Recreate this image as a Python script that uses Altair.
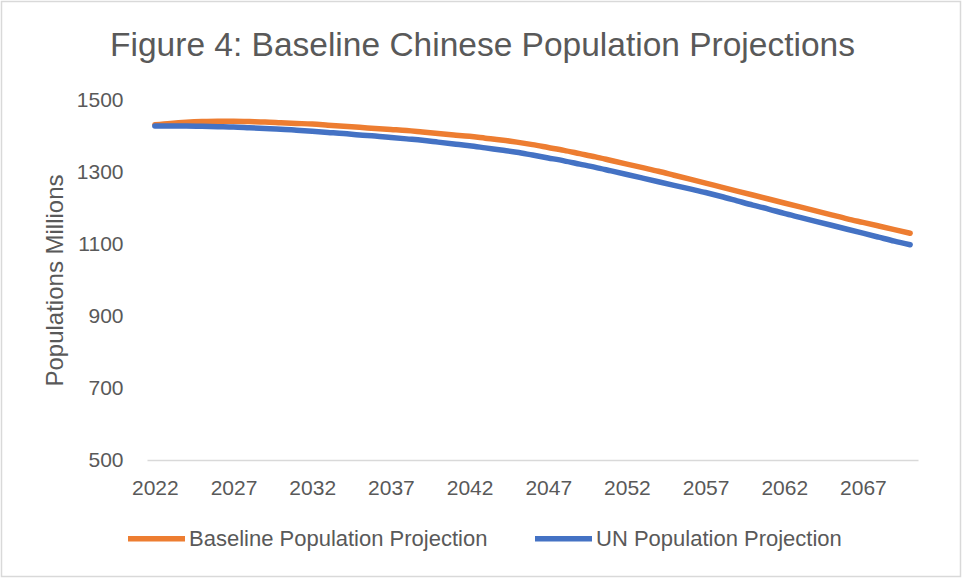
import altair as alt
import pandas as pd

years = list(range(2022, 2071))

baseline = [1431, 1435, 1438, 1440, 1441, 1441, 1440, 1439, 1437, 1435,
            1433, 1430, 1427, 1424, 1421, 1418, 1415, 1411, 1407, 1403,
            1399, 1394, 1389, 1383, 1376, 1368, 1360, 1351, 1342, 1332,
            1322, 1312, 1302, 1291, 1280, 1269, 1258, 1247, 1236, 1225,
            1214, 1203, 1192, 1181, 1170, 1160, 1150, 1140, 1130]

un = [1428, 1428, 1428, 1427, 1426, 1425, 1423, 1421, 1419, 1416,
      1413, 1410, 1407, 1403, 1400, 1396, 1392, 1388, 1383, 1378,
      1373, 1367, 1361, 1355, 1347, 1339, 1331, 1322, 1313, 1303,
      1293, 1283, 1273, 1263, 1253, 1243, 1232, 1220, 1208, 1197,
      1185, 1174, 1163, 1152, 1141, 1130, 1119, 1108, 1098]

series_names = ["Baseline Population Projection", "UN Population Projection"]
series_colors = ["#ED7D31", "#4472C4"]
x_ticks = [2022, 2027, 2032, 2037, 2042, 2047, 2052, 2057, 2062, 2067]
y_ticks = [500, 700, 900, 1100, 1300, 1500]

rows = []
for y, b, u in zip(years, baseline, un):
    rows.append({"Year": y, "Series": series_names[0], "Value": b})
    rows.append({"Year": y, "Series": series_names[1], "Value": u})
df = pd.DataFrame(rows)

TXT = "#595959"
FONT = "Liberation Sans"

lines = alt.Chart(df).mark_line(
    strokeWidth=5.5, interpolate="monotone", strokeCap="round", strokeJoin="round"
).encode(
    x=alt.X("Year:Q",
            scale=alt.Scale(domain=[2021.5, 2070.5], nice=False, zero=False),
            axis=alt.Axis(values=x_ticks, format="d", title=None, grid=False,
                          ticks=False, tickSize=0, domain=True, domainColor="#d9d9d9",
                          domainWidth=1.3, labelPadding=17, labelFontSize=21,
                          labelColor=TXT, labelFont=FONT)),
    y=alt.Y("Value:Q",
            scale=alt.Scale(domain=[500, 1500], nice=False, zero=False),
            axis=alt.Axis(values=y_ticks, format="d", title="Populations Millions",
                          grid=False, ticks=False, tickSize=0, domain=False,
                          labelPadding=24, labelFontSize=21, labelColor=TXT,
                          labelFont=FONT, titleFontSize=24, titleFont=FONT,
                          titleColor=TXT, titleFontWeight="normal", titlePadding=9)),
    color=alt.Color("Series:N",
                    scale=alt.Scale(domain=series_names, range=series_colors),
                    legend=alt.Legend(orient="none", legendX=-22, legendY=407,
                                      direction="horizontal", title=None,
                                      symbolType="stroke", symbolSize=3249,
                                      symbolStrokeWidth=5.5, labelFontSize=22,
                                      labelFont=FONT, labelColor=TXT,
                                      labelOffset=1, columnPadding=36,
                                      labelLimit=400)),
)

border = alt.Chart(pd.DataFrame({"a": [0]})).mark_rect(
    fill=None, stroke="#d9d9d9", strokeWidth=1.5
).encode(
    x=alt.value(-145.5), x2=alt.value(771 + 42.5),
    y=alt.value(-98.5), y2=alt.value(360 + 116.5)
)

chart = alt.layer(lines, border).properties(
    width=771, height=360,
    padding={"left": 147, "top": 100, "right": 44, "bottom": 118},
    autosize=alt.AutoSizeParams(type="none"),
    title=alt.TitleParams("Figure 4: Baseline Chinese Population Projections",
                          fontSize=33.5, font=FONT, color=TXT, fontWeight="normal",
                          anchor="middle", offset=-63, dx=-50),
    background="white",
).configure_view(stroke=None)

chart.save("out.html", embed_options={"renderer": "svg", "actions": False})
